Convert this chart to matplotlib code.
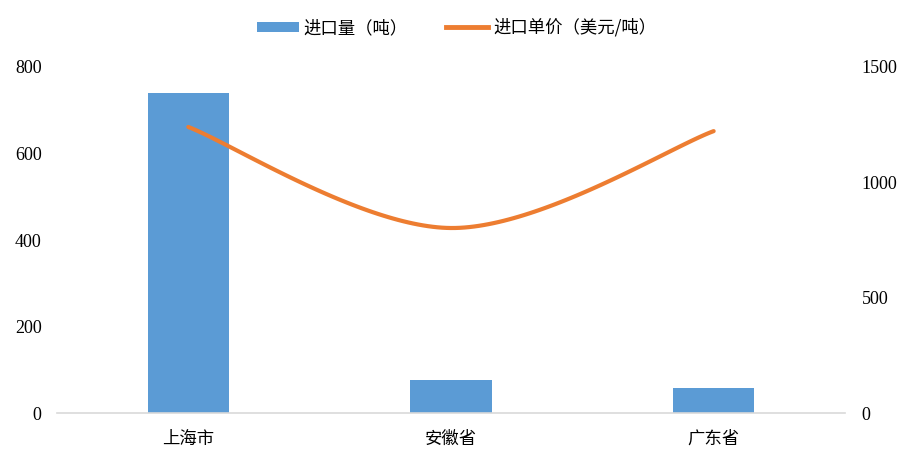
import numpy as np
import matplotlib
matplotlib.use('Agg')
import matplotlib.pyplot as plt
from matplotlib.patches import Patch
from matplotlib.lines import Line2D

plt.rcParams['font.family'] = ['Liberation Serif', 'Noto Sans CJK SC']

provinces = ['上海市', '安徽省', '广东省']
volume = [740, 76, 58]          # 进口量（吨）
unit_price = [1240, 802, 1222]  # 进口单价（美元/吨）

c_bar = '#5B9BD5'
c_line = '#ED7D31'


def smooth(xs, ys, n=60):
    # Bezier smoothing similar to spreadsheet "smoothed line"
    xs = np.asarray(xs, float)
    ys = np.asarray(ys, float)
    px = np.concatenate([[xs[0]], xs, [xs[-1]]])
    py = np.concatenate([[ys[0]], ys, [ys[-1]]])
    out_x, out_y = [], []
    t = np.linspace(0, 1, n)
    for i in range(1, len(px) - 2):
        p0 = np.array([px[i], py[i]])
        p3 = np.array([px[i + 1], py[i + 1]])
        p1 = p0 + (np.array([px[i + 1], py[i + 1]]) - np.array([px[i - 1], py[i - 1]])) / 6
        p2 = p3 - (np.array([px[i + 2], py[i + 2]]) - np.array([px[i], py[i]])) / 6
        b = ((1 - t) ** 3)[:, None] * p0 + (3 * (1 - t) ** 2 * t)[:, None] * p1 \
            + (3 * (1 - t) * t ** 2)[:, None] * p2 + (t ** 3)[:, None] * p3
        out_x.extend(b[:, 0])
        out_y.extend(b[:, 1])
    return np.array(out_x), np.array(out_y)


fig = plt.figure(figsize=(9.13, 4.62), dpi=100)
ax = fig.add_axes([0.0624, 0.106, 0.8631, 0.749])
x = np.arange(len(provinces))
ax.bar(x, volume, width=0.31, color=c_bar, zorder=2)
ax.set_xlim(-0.5, 2.5)
ax.set_ylim(0, 800)
ax.set_yticks([0, 200, 400, 600, 800])
ax.set_xticks(x)
ax.set_xticklabels(provinces, fontsize=12.5, family=['Noto Sans CJK SC'])
for s in ['top', 'right', 'left']:
    ax.spines[s].set_visible(False)
ax.spines['bottom'].set_color('#D9D9D9')
ax.spines['bottom'].set_linewidth(1.2)
ax.tick_params(axis='both', length=0)
ax.tick_params(axis='y', pad=11, labelsize=13)
ax.tick_params(axis='x', pad=12)

ax2 = ax.twinx()
sx, sy = smooth(x, unit_price)
ax2.plot(sx, sy, color=c_line, lw=3, solid_capstyle='round', zorder=3)
ax2.set_ylim(0, 1500)
ax2.set_yticks([0, 500, 1000, 1500])
for s in ['top', 'right', 'left', 'bottom']:
    ax2.spines[s].set_visible(False)
ax2.tick_params(axis='y', length=0, labelsize=13, pad=12)

handles = [Patch(facecolor=c_bar, label='进口量（吨）'),
           Line2D([0], [0], color=c_line, lw=3.5, label='进口单价（美元/吨）')]
fig.legend(handles=handles, loc='center', bbox_to_anchor=(0.5, 0.94), ncol=2,
           frameon=False, prop={'family': ['Noto Sans CJK SC'], 'size': 12.5},
           handlelength=2.4, handleheight=0.5, columnspacing=2.2, handletextpad=0.3)

fig.savefig('out.png', dpi=100)
